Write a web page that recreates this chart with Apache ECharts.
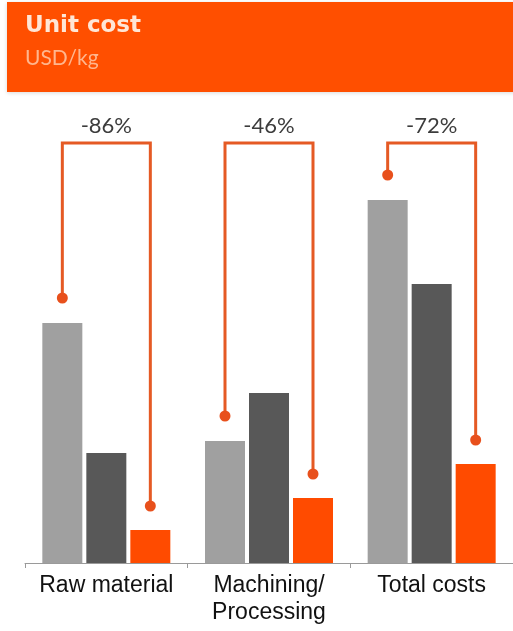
<!DOCTYPE html>
<html>
<head>
<meta charset="utf-8">
<style>
  html, body { margin: 0; padding: 0; background: #fff; }
  #main { width: 513px; height: 631px; }
</style>
<script src="https://cdn.jsdelivr.net/npm/echarts@6/dist/echarts.min.js"></script>
</head>
<body>
<div id="main"></div>
<script>
// categories on the x axis
var categories = ['Raw material', 'Machining/\nProcessing', 'Total costs'];

// unit cost, USD/kg
var costBefore = [24.0, 12.2, 36.3];   // light grey
var costMiddle = [11.0, 17.0, 27.9];   // dark grey
var costAfter = [3.3, 6.5, 9.9];       // orange

// reduction labels over the brackets
var reductions = ['-86%', '-46%', '-72%'];

var bracketTop = 42;   // value where the bracket tops sit
var barW = 40;
var barGapPx = 4;

var chart = echarts.init(document.getElementById('main'));

// bracket data: category index, start value, end value
var bracketData = [];
for (var i = 0; i < categories.length; i++) {
  bracketData.push([i, costBefore[i], costAfter[i]]);
}

function renderBracket(params, api) {
  var idx = api.value(0);
  var off = barW + barGapPx;
  var c = api.coord([idx, 0]);
  var xl = c[0] - off;
  var xr = c[0] + off;
  var yl = api.coord([idx, api.value(1)])[1] - 25;
  var yr = api.coord([idx, api.value(2)])[1] - 24;
  var yt = api.coord([idx, bracketTop])[1];
  var lineColor = '#e55a24';
  return {
    type: 'group',
    children: [
      {
        type: 'polyline',
        shape: { points: [[xl, yl], [xl, yt], [xr, yt], [xr, yr]] },
        style: { stroke: lineColor, lineWidth: 3, fill: null }
      },
      { type: 'circle', shape: { cx: xl, cy: yl, r: 5.5 }, style: { fill: '#e8501c' } },
      { type: 'circle', shape: { cx: xr, cy: yr, r: 5.5 }, style: { fill: '#e8501c' } },
      {
        type: 'text',
        style: {
          x: (xl + xr) / 2, y: yt - 17,
          text: reductions[params.dataIndex],
          fill: '#3c3c3c',
          font: '22px Lato',
          align: 'center', verticalAlign: 'middle'
        }
      }
    ]
  };
}

var option = {
  backgroundColor: '#ffffff',
  animation: false,
  graphic: [
    {
      type: 'rect',
      left: 7, top: 2,
      shape: { width: 520, height: 90 },
      style: { fill: '#ff4f00', shadowBlur: 4, shadowColor: 'rgba(0,0,0,0.15)', shadowOffsetY: 1 }
    },
    {
      type: 'text', left: 25, top: 15,
      style: { text: 'Unit cost', fill: '#ffe6d6', font: 'bold 23px "DejaVu Sans"' }
    },
    {
      type: 'text', left: 25, top: 48,
      style: { text: 'USD/kg', fill: '#ffb68e', font: '21px Lato' }
    }
  ],
  grid: { left: 25, width: 493, top: 103, bottom: 68 },
  xAxis: {
    type: 'category',
    data: categories,
    axisLine: { lineStyle: { color: '#9a9a9a', width: 1 } },
    axisTick: { show: true, length: 5, lineStyle: { color: '#9a9a9a' } },
    axisLabel: {
      color: '#111',
      fontFamily: 'Liberation Sans',
      fontSize: 23,
      lineHeight: 27,
      margin: 9,
      interval: 0
    }
  },
  yAxis: {
    type: 'value',
    min: 0,
    max: 46,
    show: false,
    splitLine: { show: false }
  },
  series: [
    {
      type: 'bar', data: costBefore, barWidth: barW, barGap: '10%',
      itemStyle: { color: '#a0a0a0' }
    },
    {
      type: 'bar', data: costMiddle, barWidth: barW, barGap: '10%',
      itemStyle: { color: '#585858' }
    },
    {
      type: 'bar', data: costAfter, barWidth: barW, barGap: '10%',
      itemStyle: { color: '#ff4b00' }
    },
    {
      type: 'custom',
      data: bracketData,
      encode: { x: 0, y: [1, 2] },
      renderItem: renderBracket,
      z: 5
    }
  ]
};

chart.setOption(option);
</script>
</body>
</html>
